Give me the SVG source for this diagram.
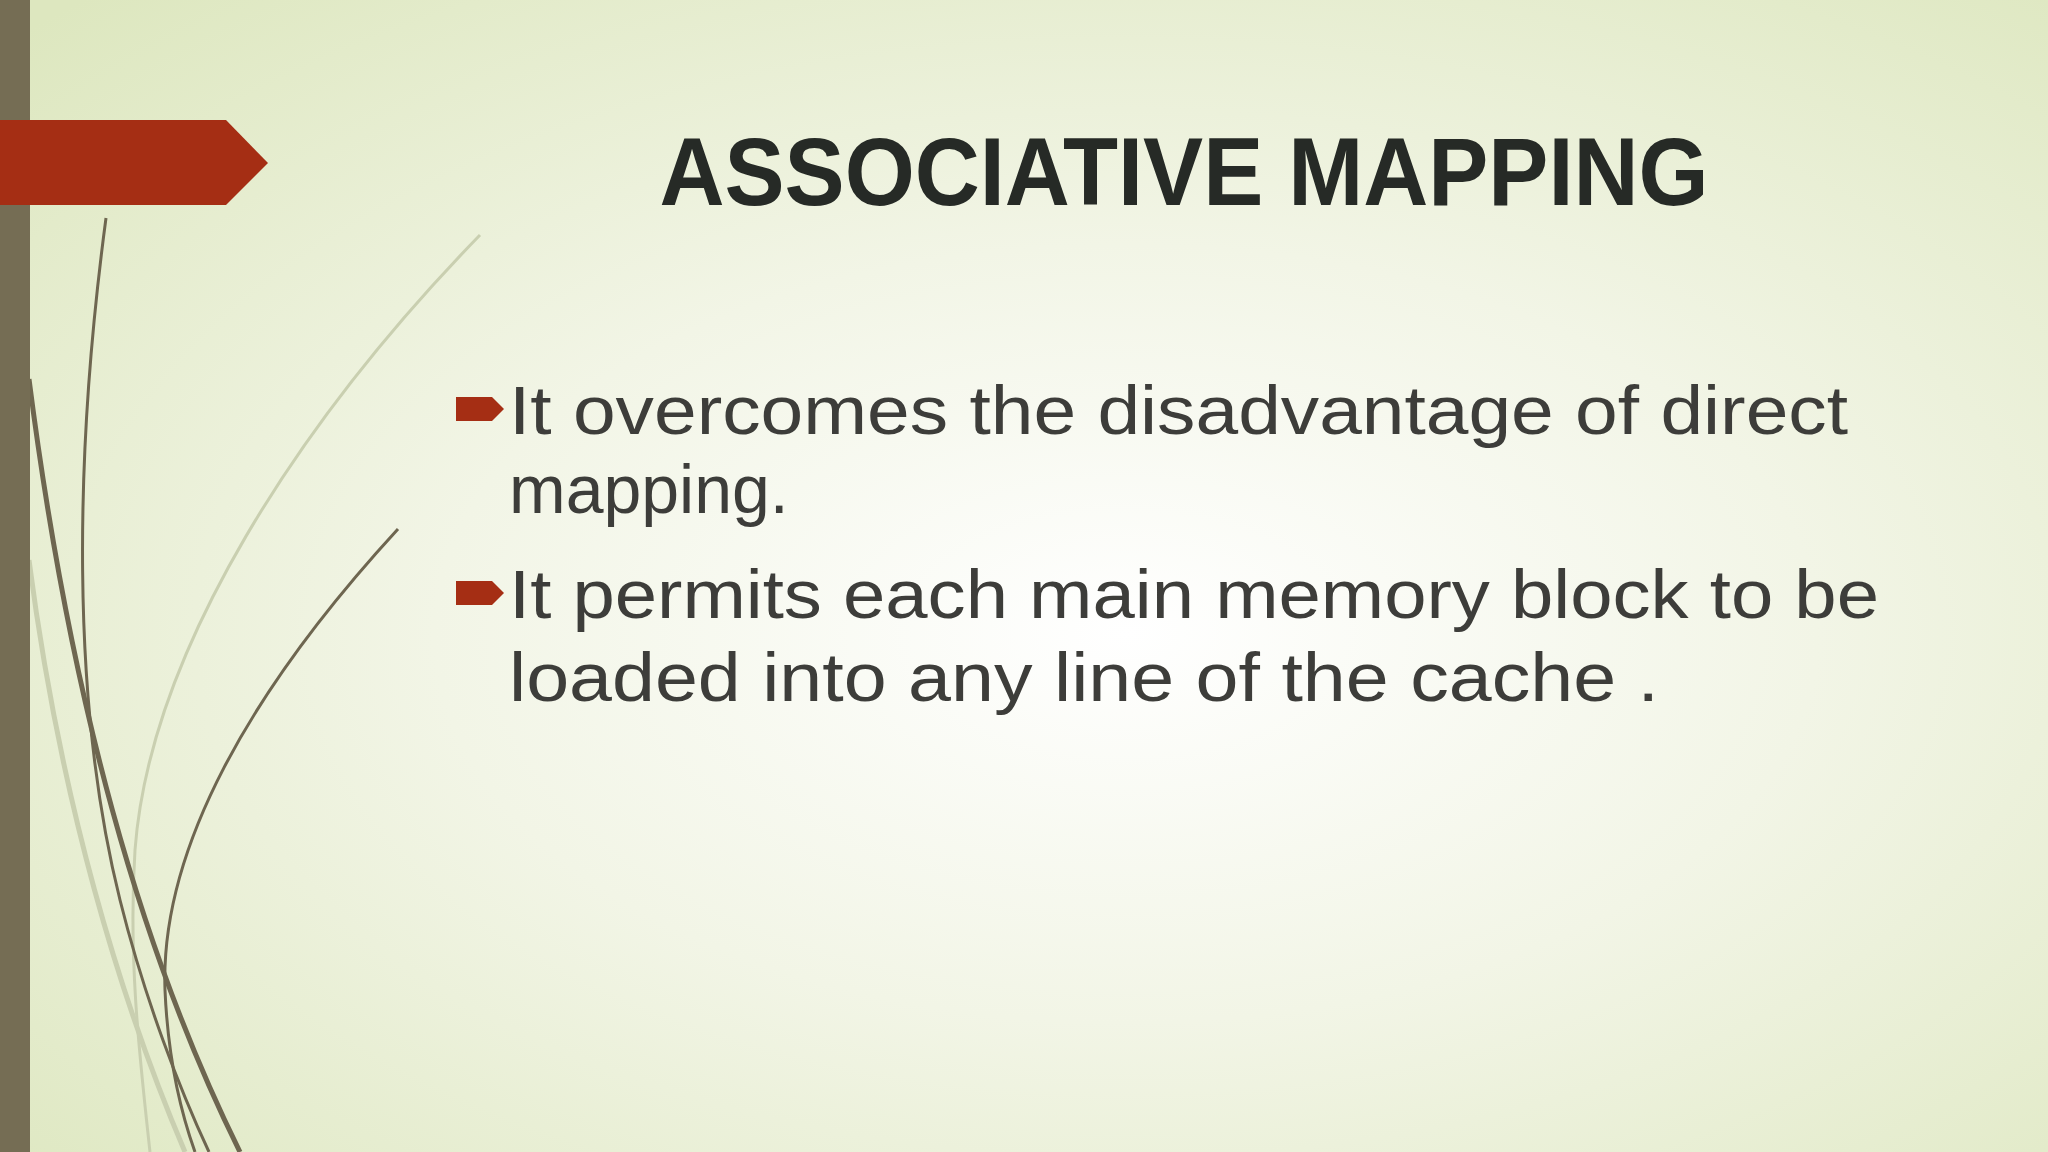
<svg xmlns="http://www.w3.org/2000/svg" width="2048" height="1152" viewBox="0 0 2048 1152">
<defs>
<radialGradient id="bg" cx="0.55" cy="0.55" r="0.75">
<stop offset="0" stop-color="#ffffff"/>
<stop offset="0.45" stop-color="#f2f5e6"/>
<stop offset="1" stop-color="#dde7bf"/>
</radialGradient>
<style>
.t{font-family:"Liberation Sans","DejaVu Sans",sans-serif;fill:#3d3d3a;font-size:68px}
.dk{fill:none;stroke:#6e6650}
.lt{fill:none;stroke:#c9cfb0}
</style>
</defs>
<rect width="2048" height="1152" fill="url(#bg)"/>
<g id="curves">
<path class="lt" stroke-width="3" d="M480,235 C300,420 150,650 135,850 C128,960 140,1060 150,1152"/>
<path class="lt" stroke-width="5" d="M29,560 C60,800 120,1000 185,1152"/>
<path class="dk" stroke-width="3" d="M106,218 C75,450 70,700 120,900 C145,1000 180,1090 209,1152"/>
<path class="dk" stroke-width="3" d="M398,529 C250,690 160,850 165,990 C168,1060 180,1110 195,1152"/>
<path class="dk" stroke-width="5" d="M29,379 C70,700 140,950 240,1152"/>
</g>
<rect x="0" y="0" width="30" height="1152" fill="#756d54"/>
<polygon fill="#a52e14" points="0,120 226,120 268,163 226,205 0,205"/>
<text x="1184" y="205" text-anchor="middle" font-family="'Liberation Sans','DejaVu Sans',sans-serif" font-weight="bold" font-size="96" fill="#262a26" textLength="1049" lengthAdjust="spacingAndGlyphs">ASSOCIATIVE MAPPING</text>
<g id="bullets" fill="#a52e14">
<polygon points="456,397 492,397 504,409 492,421 456,421"/>
<polygon points="456,581 492,581 504,593 492,605 456,605"/>
</g>
<text class="t" x="509" y="434" textLength="1339" lengthAdjust="spacingAndGlyphs">It overcomes the disadvantage of direct</text>
<text class="t" x="509" y="513">mapping.</text>
<text class="t" x="509" y="618" textLength="1370" lengthAdjust="spacingAndGlyphs">It permits each main memory block to be</text>
<text class="t" x="509" y="701" textLength="1150" lengthAdjust="spacingAndGlyphs">loaded into any line of the cache .</text>
</svg>
